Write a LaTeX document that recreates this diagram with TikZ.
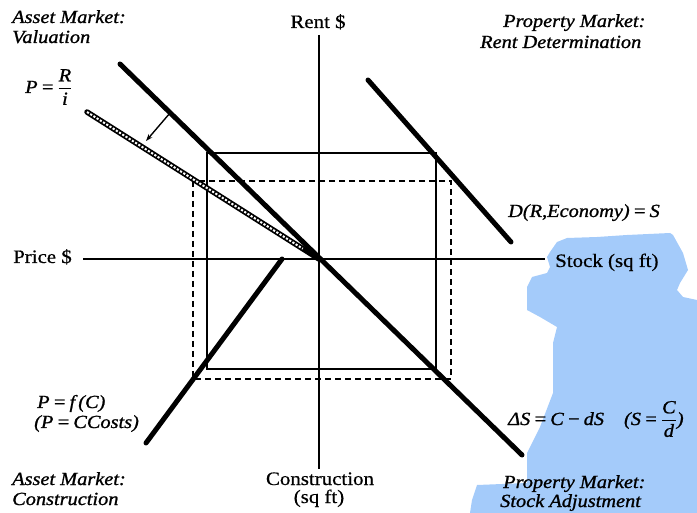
\documentclass[tikz,border=0pt]{standalone}
\usepackage{fontspec}
\setmainfont{Liberation Serif}[FakeStretch=1.1,FakeBold=0.6]
\newfontfamily\labfont{Liberation Serif}[FakeStretch=1.1,FakeBold=1.1]
\usetikzlibrary{arrows.meta,calc}
\definecolor{blob}{RGB}{164,203,250}
\newcommand\myfr[2]{$\displaystyle{\hbox{\itshape #1}\above0.8pt\hbox{\itshape #2}}$}
\begin{document}
\begin{tikzpicture}[x=1pt,y=-1pt,
  uptext/.style={inner sep=0pt,font=\fontsize{19}{21}\selectfont},
  ittext/.style={inner sep=0pt,font=\labfont\fontsize{18.5}{20}\selectfont\itshape},
  axisline/.style={line width=2.4pt},
  curveline/.style={line width=5pt,line cap=round},
  solidbox/.style={line width=1.9pt},
  dashbox/.style={line width=1.9pt,dash pattern=on 6pt off 4pt}]
\useasboundingbox (0,0) rectangle (697,513);
% blue patch
\fill[blob] (550,252) -- (557,242) -- (567,238) -- (597,237) -- (627,235) -- (670,233)
  -- (673,235) -- (683,253) -- (688,270) -- (680,283) -- (677,290) -- (683,297) -- (697,300)
  -- (697,513) -- (470,513) -- (472,500) -- (477,485) -- (527,483) -- (527,453) -- (540,427)
  -- (553,393) -- (553,343) -- (557,327) -- (540,317) -- (527,310) -- (527,287) -- (532,277)
  -- (547,273) -- (550,267) -- (547,257) -- cycle;
% coordinates
\coordinate (O) at (319,259);
\coordinate (vtop) at (319,35);
\coordinate (vbot) at (319,469);
\coordinate (hleft) at (83,259);
\coordinate (hright) at (545,259);
\coordinate (v1) at (120,64);
\coordinate (v2) at (522,455);
\coordinate (h1) at (87,112);
\coordinate (d1) at (368,80);
\coordinate (d2) at (511,242);
\coordinate (c1) at (282,259);
\coordinate (c2) at (146,443);
\coordinate (a1) at (170,113);
\coordinate (a2) at (146,141);
% rectangles
\draw[solidbox] (207,153) rectangle (436,369);
\draw[dashbox] (193,181) rectangle (451,379);
% axes
\draw[axisline] (vtop) -- (vbot);
\draw[axisline] (hleft) -- (hright);
% curves
\draw[line width=5.5pt,line cap=round] (h1) -- (O);
\draw[white,line width=2pt,dash pattern=on 2.2pt off 1.6pt] (h1) -- ($(h1)!0.93!(O)$);
\draw[curveline] (v1) -- (v2);
\draw[curveline] (d1) -- (d2);
\draw[curveline] (c1) -- (c2);
\draw[line width=1.4pt,-{Stealth[length=7pt,width=5pt]}] (a1) -- (a2);
% axis labels
\node[uptext,anchor=base] (rent) at (318,28) {Rent \$};
\node[uptext,anchor=base west] (price) at (13,263) {Price \$};
\node[uptext,anchor=base west] (stock) at (555,267) {Stock (sq ft)};
\node[uptext,anchor=base] (cons1) at (320,485) {Construction};
\node[uptext,anchor=base] (cons2) at (319,503) {(sq ft)};
% quadrant titles
\node[ittext,anchor=base west] (tl1) at (12,23) {Asset Market:};
\node[ittext,anchor=base west] (tl2) at (12,43) {Valuation};
\node[ittext,anchor=base west] (tr1) at (503,27) {Property Market:};
\node[ittext,anchor=base west] (tr2) at (480,48) {Rent Determination};
\node[ittext,anchor=base west] (bl1) at (12,485) {Asset Market:};
\node[ittext,anchor=base west] (bl2) at (12,505) {Construction};
\node[ittext,anchor=base west] (br1) at (503,488) {Property Market:};
\node[ittext,anchor=base west] (br2) at (500,507) {Stock Adjustment};
% equations
\node[ittext,anchor=base west] (eqv) at (25,93) {P\,=\,\myfr{R}{i}};
\node[ittext,anchor=base west] (eqd) at (508,217) {D(R,Economy)\,=\,S};
\node[ittext,anchor=base west] (eqc1) at (37,408) {P\,=\,f\,(C)};
\node[ittext,anchor=base west] (eqc2) at (34,428) {(P\,=\,CCosts)};
\node[ittext,anchor=base west] (eqs) at (508,425) {ΔS\,=\,C\,−\,dS\hspace{20pt}(S\,=\,\myfr{C}{d})};
\end{tikzpicture}
\end{document}
